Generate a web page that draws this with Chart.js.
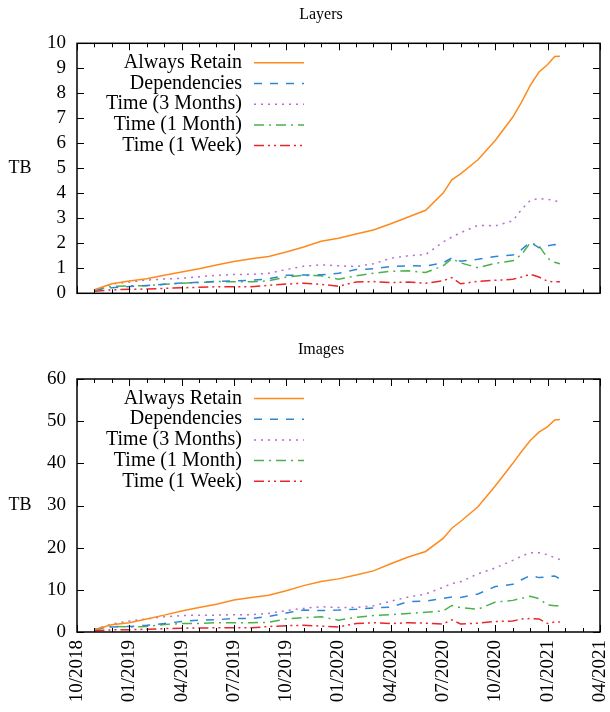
<!DOCTYPE html>
<html>
<head>
<meta charset="utf-8">
<script src="https://cdn.jsdelivr.net/npm/chart.js@4"></script>
<style>
  body { margin: 0; background: #fff; }
  #wrap { position: relative; width: 610px; height: 712px; }
  canvas { position: absolute; left: 0; }
  #layers { top: 0; }
  #images { top: 330px; }
</style>
</head>
<body>
<div id="wrap">
  <canvas id="layers" width="610" height="310"></canvas>
  <canvas id="images" width="610" height="382"></canvas>
</div>
<script>
// months since 10/2018
const months = [1, 2, 3, 4, 5, 6, 7, 8, 9, 10, 11, 12, 13, 14, 15, 16, 17, 18, 19, 20,
  21, 21.5, 22, 23, 24, 25, 25.5, 26, 26.5, 27, 27.4, 27.7];

const seriesNames = ["Always Retain", "Dependencies", "Time (3 Months)", "Time (1 Month)", "Time (1 Week)"];
const xTickLabels = ["10/2018", "01/2019", "04/2019", "07/2019", "10/2019", "01/2020",
  "04/2020", "07/2020", "10/2020", "01/2021", "04/2021"];

// Layers (TB)
const layersRetain = [0.14, 0.38, 0.49, 0.58, 0.72, 0.85, 0.98, 1.13, 1.27, 1.38, 1.47, 1.65, 1.85, 2.08, 2.20, 2.37, 2.53, 2.78, 3.05, 3.32,
  4.01, 4.54, 4.78, 5.34, 6.12, 7.05, 7.65, 8.32, 8.85, 9.15, 9.47, 9.48];
const layersDeps = [0.12, 0.22, 0.27, 0.31, 0.36, 0.41, 0.44, 0.48, 0.50, 0.52, 0.58, 0.72, 0.73, 0.74, 0.80, 0.95, 0.98, 1.07, 1.10, 1.09,
  1.22, 1.42, 1.28, 1.36, 1.47, 1.53, 1.75, 2.05, 1.82, 1.90, 1.95, 1.92];
const layers3m = [0.12, 0.37, 0.45, 0.53, 0.57, 0.60, 0.66, 0.72, 0.75, 0.76, 0.80, 0.95, 1.08, 1.14, 1.10, 1.07, 1.18, 1.40, 1.50, 1.55,
  2.05, 2.25, 2.42, 2.72, 2.70, 2.90, 3.35, 3.72, 3.79, 3.76, 3.70, 3.66];
const layers1m = [0.12, 0.28, 0.30, 0.30, 0.36, 0.40, 0.43, 0.47, 0.46, 0.46, 0.50, 0.65, 0.72, 0.70, 0.56, 0.70, 0.80, 0.88, 0.90, 0.83,
  1.10, 1.38, 1.22, 1.02, 1.20, 1.30, 1.55, 2.02, 1.90, 1.40, 1.24, 1.18];
const layers1w = [0.08, 0.14, 0.16, 0.17, 0.20, 0.22, 0.24, 0.26, 0.26, 0.26, 0.32, 0.37, 0.40, 0.36, 0.28, 0.45, 0.47, 0.43, 0.45, 0.40,
  0.50, 0.63, 0.38, 0.48, 0.52, 0.56, 0.65, 0.76, 0.65, 0.48, 0.46, 0.46];

// Images (TB)
const imagesRetain = [0.6, 1.7, 2.2, 3.1, 4.0, 5.0, 5.8, 6.6, 7.6, 8.2, 8.7, 9.8, 11.0, 12.0, 12.6, 13.5, 14.5, 16.2, 17.8, 19.1,
  22.2, 24.6, 26.2, 29.7, 34.7, 40.0, 42.8, 45.4, 47.4, 48.7, 50.3, 50.4];
const imagesDeps = [0.6, 1.2, 1.3, 1.6, 2.0, 2.5, 2.8, 2.9, 3.2, 3.2, 3.7, 4.5, 5.2, 5.1, 5.2, 5.4, 5.7, 5.9, 7.2, 7.3,
  8.0, 8.3, 8.2, 9.0, 10.8, 11.3, 12.4, 13.4, 12.9, 13.1, 13.3, 12.6];
const images3m = [0.6, 1.9, 2.6, 3.1, 3.6, 3.9, 4.0, 4.0, 4.1, 4.1, 4.4, 5.1, 5.6, 6.0, 5.8, 5.8, 6.2, 7.3, 8.3, 9.0,
  10.6, 11.5, 11.9, 13.8, 15.2, 17.0, 18.0, 18.8, 18.8, 18.3, 17.6, 17.2];
const images1m = [0.6, 1.3, 1.2, 1.3, 1.8, 2.0, 2.0, 2.2, 2.2, 2.2, 2.3, 3.1, 3.4, 3.6, 2.8, 3.5, 3.9, 4.1, 4.4, 4.7,
  5.0, 6.3, 5.8, 5.4, 7.1, 7.5, 8.0, 8.5, 7.9, 6.4, 6.2, 6.2];
const images1w = [0.3, 0.5, 0.55, 0.65, 0.8, 0.9, 0.95, 1.0, 1.0, 1.0, 1.3, 1.5, 1.6, 1.4, 1.2, 2.0, 2.2, 2.0, 2.2, 2.1,
  1.9, 2.9, 1.9, 2.1, 2.5, 2.6, 3.1, 3.2, 3.1, 2.0, 2.4, 2.4];

const lineColors = ["#ff8a1c", "#2f86d4", "#b46ecf", "#4cb14a", "#e8262c"];
const lineDashes = [[], [8, 8], [2, 5], [10, 5, 2, 5], [10, 4, 2, 4, 2, 4]];

const FONT = "'Liberation Serif', 'DejaVu Serif', serif";

function makeDatasets(seriesList) {
  return seriesList.map((values, i) => ({
    label: seriesNames[i],
    data: values.map((v, j) => ({ x: months[j], y: v })),
    borderColor: lineColors[i],
    borderWidth: 1.5,
    borderDash: lineDashes[i],
    pointRadius: 0,
    tension: 0,
    fill: false
  }));
}

// gnuplot-style frame, inward ticks, title, key and ylabel
const gnuplotLook = {
  id: "gnuplotLook",
  afterDraw(chart, args, opts) {
    const { ctx, chartArea: a, scales } = chart;
    ctx.save();
    ctx.strokeStyle = "#000";
    ctx.lineWidth = 1;
    ctx.beginPath();
    for (let m = scales.x.min; m <= scales.x.max; m++) {
      const x = Math.round(scales.x.getPixelForValue(m)) + 0.5;
      const len = m % 3 === 0 ? 7 : 4;
      ctx.moveTo(x, a.bottom); ctx.lineTo(x, a.bottom - len);
      ctx.moveTo(x, a.top); ctx.lineTo(x, a.top + len);
    }
    scales.y.ticks.forEach((t) => {
      const y = Math.round(scales.y.getPixelForValue(t.value)) + 0.5;
      ctx.moveTo(a.left, y); ctx.lineTo(a.left + 7, y);
      ctx.moveTo(a.right, y); ctx.lineTo(a.right - 7, y);
    });
    ctx.stroke();
    ctx.lineWidth = 1.5;
    ctx.strokeRect(a.left, a.top, a.right - a.left, a.bottom - a.top);

    ctx.fillStyle = "#000";
    ctx.textBaseline = "middle";
    ctx.textAlign = "center";
    ctx.font = "16px " + FONT;
    ctx.fillText(opts.title, 321, a.top - 29);
    ctx.font = "18px " + FONT;
    ctx.fillText("TB", 20, (a.top + a.bottom) / 2);

    ctx.font = "20px " + FONT;
    chart.data.datasets.forEach((ds, i) => {
      const y = a.top + 19.5 + i * 20.7;
      ctx.textAlign = "right";
      ctx.fillText(ds.label, a.left + 165, y);
      ctx.strokeStyle = ds.borderColor;
      ctx.lineWidth = ds.borderWidth;
      ctx.setLineDash(ds.borderDash);
      ctx.beginPath();
      ctx.moveTo(a.left + 177, y);
      ctx.lineTo(a.left + 227, y);
      ctx.stroke();
      ctx.setLineDash([]);
    });
    ctx.restore();
  }
};

function makeChart(id, seriesList, yMax, yStep, title, showXLabels, padding) {
  return new Chart(document.getElementById(id), {
    type: "line",
    data: { datasets: makeDatasets(seriesList) },
    options: {
      responsive: false,
      animation: false,
      layout: { padding: padding },
      plugins: {
        legend: { display: false },
        tooltip: { enabled: false },
        gnuplotLook: { title: title }
      },
      scales: {
        x: {
          type: "linear",
          min: 0,
          max: 30,
          grid: { display: false, drawTicks: false },
          border: { display: false },
          ticks: {
            display: showXLabels,
            stepSize: 3,
            autoSkip: false,
            maxRotation: 90,
            minRotation: 90,
            padding: 8,
            color: "#000",
            font: { family: FONT, size: 19 },
            callback: (v) => xTickLabels[v / 3]
          },
          afterFit: (s) => {
            s.height = showXLabels ? 80 : 0;
            s.paddingLeft = 0;
            s.paddingRight = 0;
          }
        },
        y: {
          min: 0,
          max: yMax,
          grid: { display: false, drawTicks: false },
          border: { display: false },
          ticks: {
            stepSize: yStep,
            autoSkip: false,
            padding: 11,
            color: "#000",
            font: { family: FONT, size: 19 }
          },
          afterFit: (s) => {
            s.width = 77;
            s.paddingTop = 0;
            s.paddingBottom = 0;
          }
        }
      }
    },
    plugins: [gnuplotLook]
  });
}

makeChart("layers", [layersRetain, layersDeps, layers3m, layers1m, layers1w], 10, 1, "Layers", false,
  { top: 43.3, right: 10, bottom: 16.7, left: 0 });
makeChart("images", [imagesRetain, imagesDeps, images3m, images1m, images1w], 60, 10, "Images", true,
  { top: 49, right: 10, bottom: 0, left: 0 });
</script>
</body>
</html>
